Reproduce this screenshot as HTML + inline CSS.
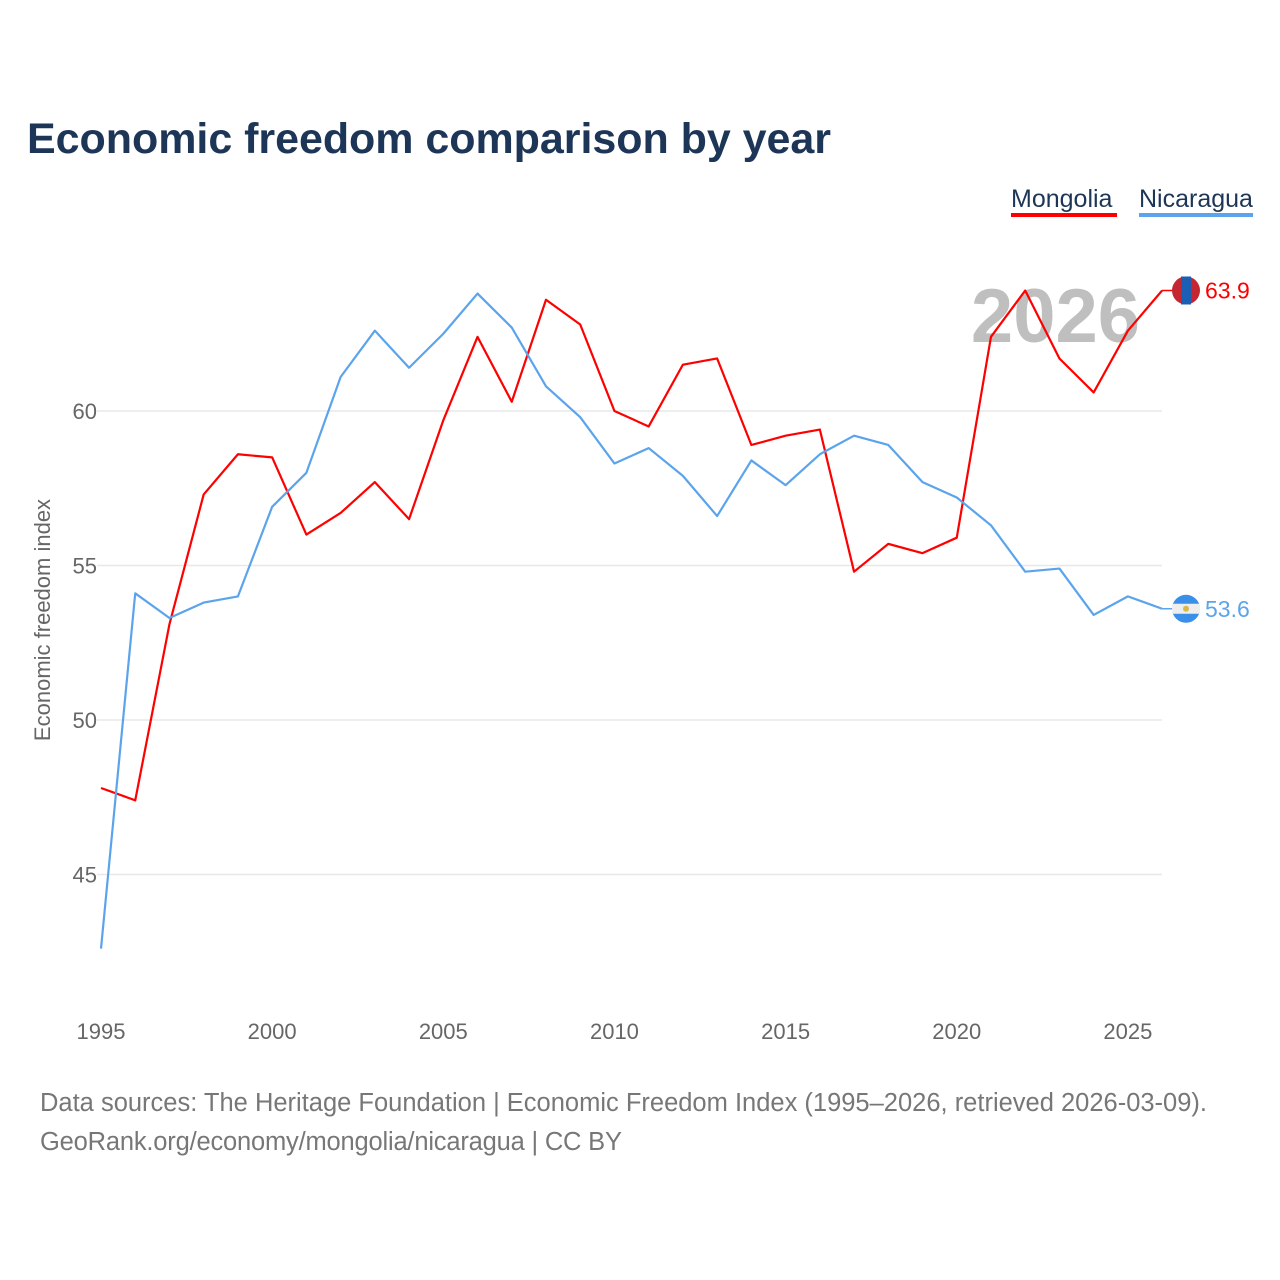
<!DOCTYPE html>
<html><head><meta charset="utf-8"><style>
body{margin:0;background:#fff;font-family:"Liberation Sans",sans-serif;}
#wrap{position:relative;width:1280px;height:1280px;overflow:hidden;}
</style></head><body>
<div id="wrap">
<svg id="chart" width="1280" height="1280">
<text x="27" y="153" font-size="43" font-weight="bold" fill="#1d3557" textLength="804">Economic freedom comparison by year</text>
<g><text x="1011" y="207" font-size="25" fill="#1d3557">Mongolia</text><rect x="1011" y="213" width="106" height="4" fill="#ff0000"/></g>
<g><text x="1139" y="207" font-size="25" fill="#1d3557">Nicaragua</text><rect x="1139" y="213" width="114" height="4" fill="#5ba4ec"/></g>
<text x="1140" y="342" font-size="76" font-weight="bold" fill="#bfbfbf" text-anchor="end">2026</text>
<g id="grid"></g><g id="xt"></g><g id="lines"></g>
<text transform="translate(50,620) rotate(-90)" font-size="22" fill="#666" text-anchor="middle">Economic freedom index</text>
<text x="40" y="1111" font-size="25.5" fill="#777" textLength="1167">Data sources: The Heritage Foundation | Economic Freedom Index (1995–2026, retrieved 2026-03-09).</text>
<text x="40" y="1150" font-size="25.5" fill="#777" textLength="582">GeoRank.org/economy/mongolia/nicaragua | CC BY</text>
</svg></div>
<script>
const years=[];for(let y=1995;y<=2026;y++)years.push(y);
const mongolia=[47.8,47.4,53.1,57.3,58.6,58.5,56.0,56.7,57.7,56.5,59.7,62.4,60.3,63.6,62.8,60.0,59.5,61.5,61.7,58.9,59.2,59.4,54.8,55.7,55.4,55.9,62.4,63.9,61.7,60.6,62.6,63.9];
const nicaragua=[42.6,54.1,53.3,53.8,54.0,56.9,58.0,61.1,62.6,61.4,62.5,63.8,62.7,60.8,59.8,58.3,58.8,57.9,56.6,58.4,57.6,58.6,59.2,58.9,57.7,57.2,56.3,54.8,54.9,53.4,54.0,53.6];
const yTicks=[45,50,55,60];
const xTicks=[1995,2000,2005,2010,2015,2020,2025];
const NS='http://www.w3.org/2000/svg';
const X=y=>101+(y-1995)*34.23;
const Y=v=>411-(v-60)*30.9;
function mk(t,a,p){const e=document.createElementNS(NS,t);for(const k in a)e.setAttribute(k,a[k]);p.appendChild(e);return e;}
const grid=document.getElementById('grid'),xt=document.getElementById('xt'),lines=document.getElementById('lines');
yTicks.forEach(v=>{
 const l=mk('line',{x1:97,x2:1162,y1:Y(v),y2:Y(v),stroke:'#e8e8e8','stroke-width':1.5},grid);
 
 
 const t=mk('text',{x:97,y:Y(v)+8,'font-size':22,fill:'#666','text-anchor':'end'},grid);t.textContent=v;
 
 
});
xTicks.forEach(v=>{
 const t=mk('text',{x:X(v),y:1039,'font-size':22,fill:'#666','text-anchor':'middle'},xt);t.textContent=v;
 
 
});
function series(vals,color,flag,name){
 const p=mk('polyline',{points:vals.map((v,i)=>X(years[i])+','+Y(v)).join(' '),fill:'none',stroke:color,'stroke-width':2.2,'stroke-linejoin':'round'},lines);
 
 
 const last=vals[vals.length-1],lx=X(years[years.length-1]),ly=Y(last);
 mk('line',{x1:lx,x2:1174,y1:ly,y2:ly,stroke:color,'stroke-width':1.5},lines);
 const c=mk('circle',{cx:1186,cy:ly,r:14,fill:flag},lines);
 
 
 const t=mk('text',{x:1205,y:ly+8,'font-size':23,fill:color},lines);t.textContent=last.toFixed(1);
 
 
 return ly;
}
const my=series(mongolia,'#ff0000','#c4272f','mongolia');
mk('rect',{x:1181,y:my-14,width:10,height:28,fill:'#1a5fb4'},lines);
const ny=series(nicaragua,'#5ba4ec','#3a8fe8','nicaragua');
mk('rect',{x:1172,y:ny-5,width:28,height:10,fill:'#eee'},lines);
mk('circle',{cx:1186,cy:ny,r:3,fill:'#d9b84a'},lines);
</script>
</body></html>
